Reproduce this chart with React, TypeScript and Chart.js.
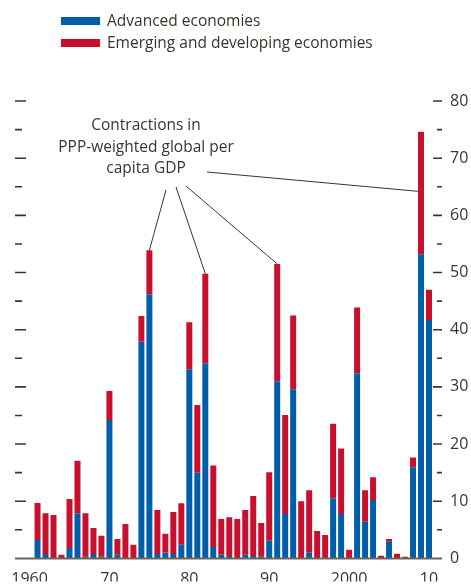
import React, { useEffect, useRef } from "react";
import { Chart, registerables } from "chart.js";

Chart.register(...registerables);

const years = [
  "1960", "1961", "1962", "1963", "1964", "1965", "1966", "1967", "1968", "1969",
  "1970", "1971", "1972", "1973", "1974", "1975", "1976", "1977", "1978", "1979",
  "1980", "1981", "1982", "1983", "1984", "1985", "1986", "1987", "1988", "1989",
  "1990", "1991", "1992", "1993", "1994", "1995", "1996", "1997", "1998", "1999",
  "2000", "2001", "2002", "2003", "2004", "2005", "2006", "2007", "2008", "2009",
  "2010",
];

const advanced = [
  0, 3.2, 0.75, 0, 0, 1.8, 7.9, 0.3, 0.75, 0.3,
  24.2, 0.65, 0, 0, 37.9, 46.2, 0.75, 1.05, 0.75, 2.4,
  33.1, 15.0, 34.1, 2.0, 0.65, 0.4, 0, 0.65, 0.4, 0.3,
  3.1, 31.0, 7.75, 29.6, 0, 1.0, 0, 0, 10.5, 7.75,
  0, 32.4, 6.4, 10.2, 0, 2.9, 0, 0, 15.95, 53.2,
  41.7,
];

const emerging = [
  0, 6.5, 7.15, 7.6, 0.65, 8.6, 9.2, 7.6, 4.55, 3.65,
  5.1, 2.75, 6.0, 2.4, 4.5, 7.7, 7.7, 3.25, 7.35, 7.25,
  8.2, 11.85, 15.7, 14.25, 6.25, 6.8, 6.9, 7.8, 10.5, 5.9,
  11.95, 20.5, 17.35, 12.9, 10.0, 10.9, 4.8, 4.1, 13.05, 11.45,
  1.5, 11.5, 5.5, 4.0, 0.45, 0.5, 0.8, 0.3, 1.7, 21.4,
  5.3,
];

const xLabelYears = ["1960", "1970", "1980", "1990", "2000", "2010"];
const xLabelTexts = ["1960", "70", "80", "90", "2000", "10"];

const yTickValues = [5, 10, 15, 20, 25, 30, 35, 40, 45, 50, 55, 60, 65, 70, 75, 80];

const seriesNames = ["Advanced economies", "Emerging and developing economies"];
const annotationLines = ["Contractions in", "PPP-weighted global per", "capita GDP"];
const annotatedYears = ["1975", "1982", "1991"];

const BLUE = "#005EAB";
const RED = "#C8102E";
const INK = "#3a352c";
const FONT = "'Open Sans', sans-serif";

const decorPlugin = {
  id: "decor",
  afterDatasetsDraw(chart: any) {
    const ctx = chart.ctx;
    const x = chart.scales.x;
    const y = chart.scales.y;
    ctx.save();
    // tick marks on both sides
    ctx.strokeStyle = INK;
    ctx.lineWidth = 1.6;
    for (const v of yTickValues) {
      const py = y.getPixelForValue(v);
      const major = v % 10 === 0;
      ctx.beginPath();
      ctx.moveTo(15, py);
      ctx.lineTo(major ? 26 : 22, py);
      ctx.moveTo(major ? 433 : 437, py);
      ctx.lineTo(442, py);
      ctx.stroke();
    }
    // baseline
    const py0 = y.getPixelForValue(0);
    ctx.strokeStyle = "#6e6556";
    ctx.lineWidth = 2;
    ctx.beginPath();
    ctx.moveTo(15, py0);
    ctx.lineTo(442, py0);
    ctx.stroke();
    // annotation leader lines
    ctx.strokeStyle = INK;
    ctx.lineWidth = 1;
    const starts = [
      [166, 190],
      [176, 187],
      [186, 186],
    ];
    annotatedYears.forEach((yr, k) => {
      const i = years.indexOf(yr);
      const total = advanced[i] + emerging[i];
      ctx.beginPath();
      ctx.moveTo(starts[k][0], starts[k][1]);
      ctx.lineTo(x.getPixelForValue(i), y.getPixelForValue(total));
      ctx.stroke();
    });
    const i09 = years.indexOf("2009");
    ctx.beginPath();
    ctx.moveTo(207, 172);
    ctx.lineTo(x.getPixelForValue(i09) - 3, y.getPixelForValue(64.2));
    ctx.stroke();
    ctx.restore();
  },
};

export default function App() {
  const ref = useRef<HTMLCanvasElement | null>(null);

  useEffect(() => {
    if (!ref.current) return;
    const chart = new Chart(ref.current, {
      type: "bar",
      data: {
        labels: years,
        datasets: [
          { label: seriesNames[0], data: advanced, backgroundColor: BLUE, stack: "s" },
          { label: seriesNames[1], data: emerging, backgroundColor: RED, stack: "s" },
        ],
      },
      options: {
        animation: false,
        responsive: false,
        layout: { padding: { left: 25, top: 101, right: 0, bottom: 0 } },
        plugins: { legend: { display: false }, tooltip: { enabled: false } },
        datasets: { bar: { barPercentage: 0.75, categoryPercentage: 1 } },
        scales: {
          x: {
            stacked: true,
            grid: { display: false, drawTicks: false },
            border: { display: false },
            ticks: {
              autoSkip: false,
              maxRotation: 0,
              minRotation: 0,
              padding: 11,
              color: INK,
              font: { family: FONT, size: 16 },
              callback: (_v: any, i: number) => {
                const k = xLabelYears.indexOf(years[i]);
                return k >= 0 ? xLabelTexts[k] : "";
              },
            },
            afterFit: (s: any) => {
              s.height = 23;
            },
          },
          y: {
            position: "right",
            stacked: true,
            min: 0,
            max: 80,
            grid: { display: false, drawTicks: false },
            border: { display: false },
            ticks: {
              stepSize: 10,
              padding: 17,
              color: INK,
              font: { family: FONT, size: 16 },
            },
            afterFit: (s: any) => {
              s.width = 38;
            },
          },
        },
      } as any,
      plugins: [decorPlugin],
    });
    return () => chart.destroy();
  }, []);

  const textStyle: React.CSSProperties = {
    position: "absolute",
    fontFamily: FONT,
    fontSize: "15.5px",
    color: INK,
    whiteSpace: "nowrap",
    lineHeight: "22px",
  };

  return (
    <div style={{ position: "absolute", left: 0, top: 0, width: 471, height: 585, background: "#fff" }}>
      <canvas ref={ref} width={471} height={585} style={{ position: "absolute", left: 0, top: 0, width: 471, height: 585 }} />
      <div style={{ position: "absolute", left: 61, top: 17, width: 39, height: 8, background: BLUE }} />
      <div style={{ ...textStyle, left: 107, top: 9 }}>{seriesNames[0]}</div>
      <div style={{ position: "absolute", left: 61, top: 39, width: 39, height: 8, background: RED }} />
      <div style={{ ...textStyle, left: 107, top: 31 }}>{seriesNames[1]}</div>
      <div style={{ ...textStyle, left: 46, top: 114, width: 200, textAlign: "center", lineHeight: "21.5px" }}>
        {annotationLines.map((l) => (
          <div key={l}>{l}</div>
        ))}
      </div>
    </div>
  );
}
